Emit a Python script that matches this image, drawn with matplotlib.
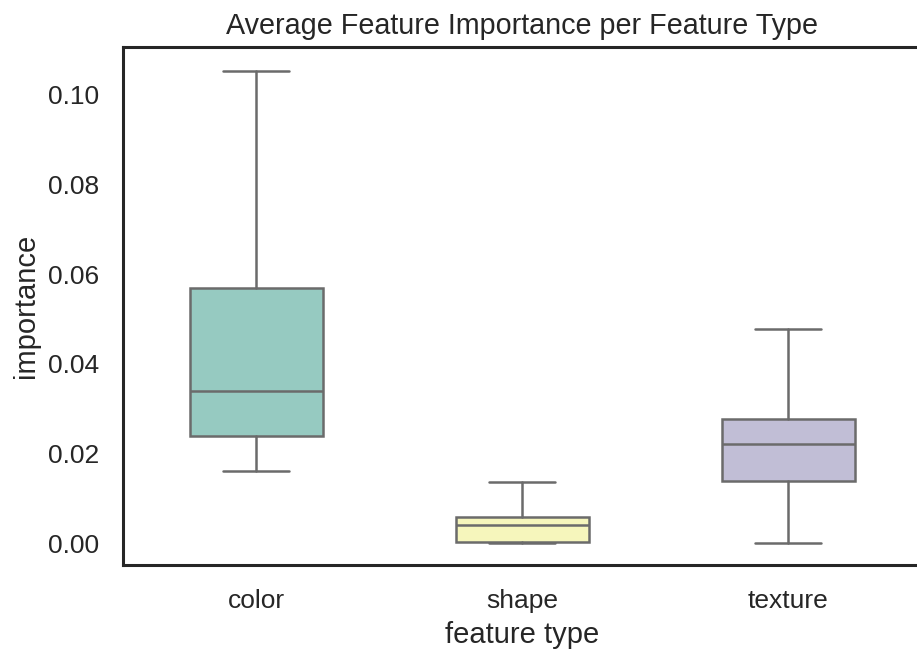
import matplotlib
matplotlib.use("Agg")
import matplotlib.pyplot as plt
import seaborn as sns

#box statistics
categories = ["color", "shape", "texture"]
whisker_low = [0.0161, 0.0, 0.0]
quartile_1 = [0.0239, 0.0002, 0.0138]
medians = [0.0339, 0.0041, 0.0220]
quartile_3 = [0.0569, 0.0059, 0.0277]
whisker_high = [0.1054, 0.0136, 0.0477]
yticks = [0.00, 0.02, 0.04, 0.06, 0.08, 0.10]

sns.set_style("white")
plt.rcParams['font.family'] = ['Liberation Sans', 'DejaVu Sans']

#seaborn-style desaturated Set3 colours
colors = [sns.desaturate(c, 0.75) for c in sns.color_palette("Set3", 3)]
line_gray = "#6b6b6b"

stats = []
for i, name in enumerate(categories):
    stats.append(dict(label=name, whislo=whisker_low[i], q1=quartile_1[i], med=medians[i],
                      q3=quartile_3[i], whishi=whisker_high[i], fliers=[]))

fig = plt.figure(figsize=(9.17, 6.5), dpi=100)
ax = fig.add_axes([123/917, 1-565/650, 798/917, 518/650])

bp = ax.bxp(stats, positions=range(len(categories)), widths=0.5, capwidths=0.25,
            patch_artist=True, showfliers=False,
            boxprops=dict(edgecolor=line_gray, linewidth=1.8),
            medianprops=dict(color=line_gray, linewidth=1.8),
            whiskerprops=dict(color=line_gray, linewidth=1.8),
            capprops=dict(color=line_gray, linewidth=1.8))
for patch, c in zip(bp['boxes'], colors):
    patch.set_facecolor(c)

ax.set_xlim(-0.5, 2.5)
ax.set_ylim(-0.0049, 0.1107)
ax.set_yticks(yticks)
ax.set_yticklabels([f"{t:.2f}" for t in yticks])
ax.set_xticks(range(len(categories)))
ax.set_xticklabels(categories)
ax.tick_params(labelsize=19, colors="#262626", length=0)
ax.tick_params(axis="y", pad=17)
ax.tick_params(axis="x", pad=17)

for s in ax.spines.values():
    s.set_color("#262626")
    s.set_linewidth(2.2)

ax.set_title("Average Feature Importance per Feature Type", fontsize=20.7, color="#262626", pad=9)
ax.set_xlabel("feature type", fontsize=21, color="#262626", labelpad=6)
ax.set_ylabel("importance", fontsize=21, color="#262626", labelpad=6)

plt.savefig("out.png", dpi=100)
